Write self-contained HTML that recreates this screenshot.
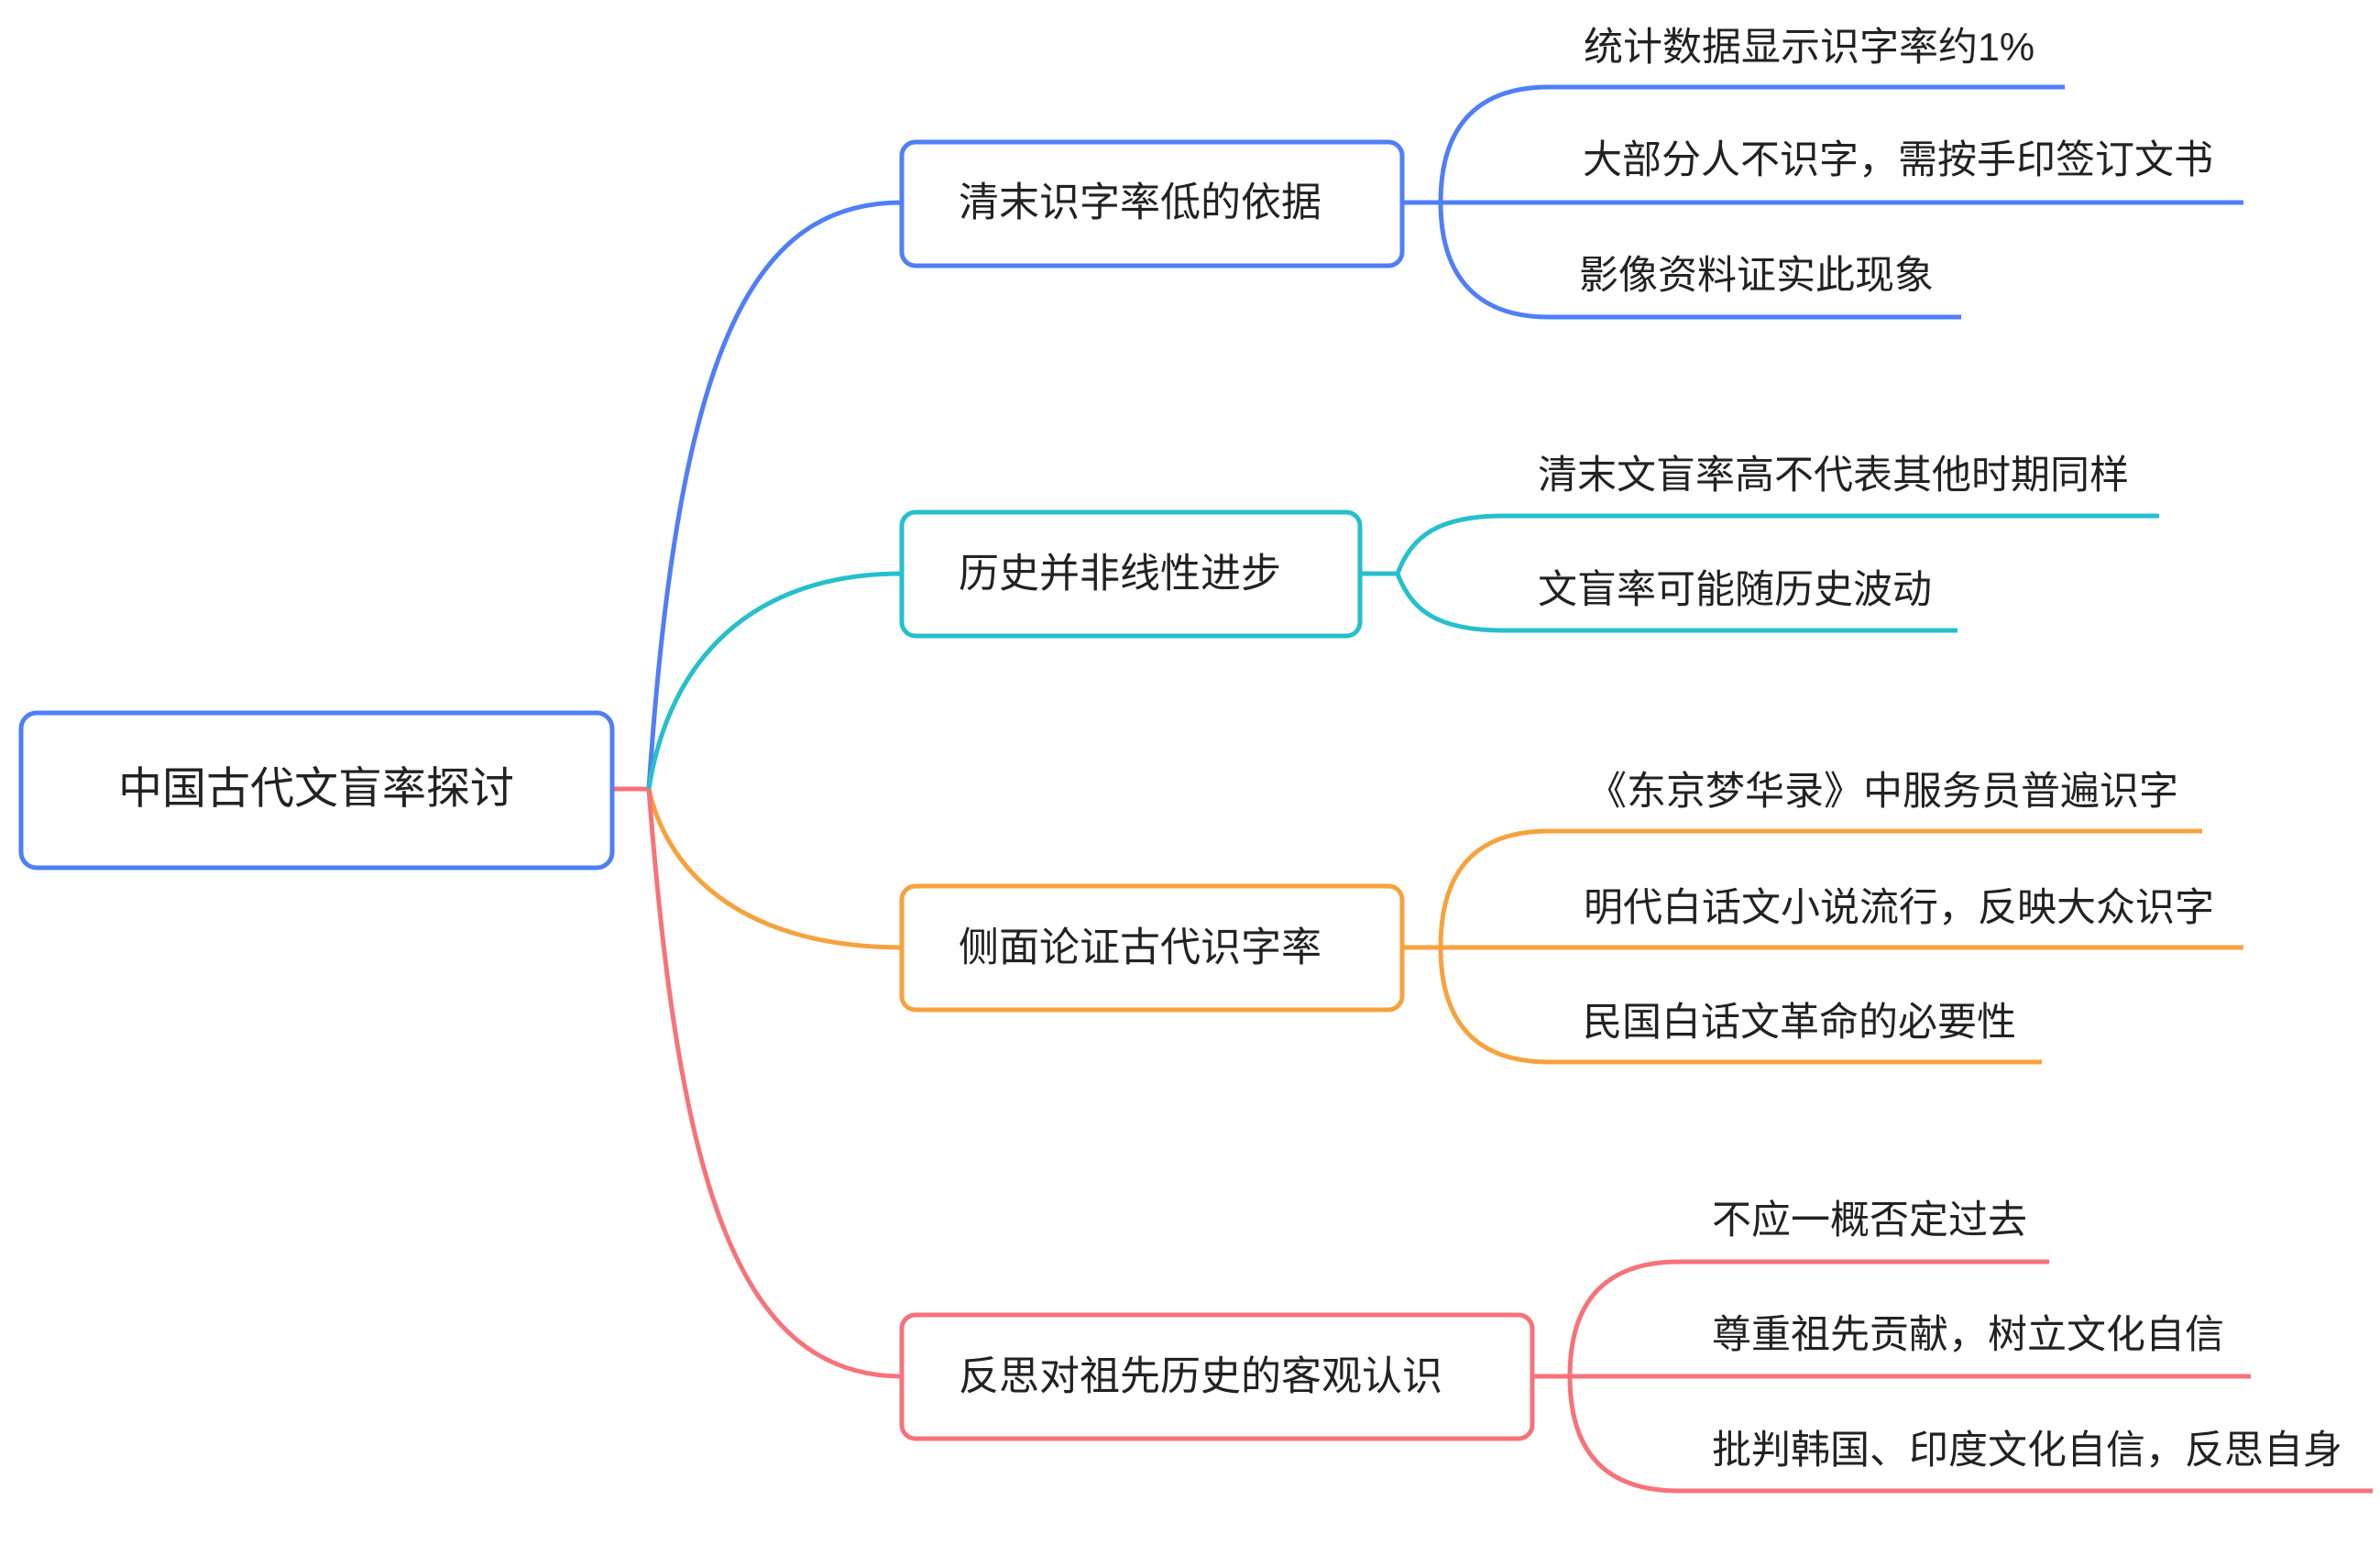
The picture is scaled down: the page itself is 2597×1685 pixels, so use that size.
<!DOCTYPE html>
<html><head><meta charset="utf-8"><style>
html,body{margin:0;padding:0;background:#fff;}
svg{display:block;}
text{font-family:"Liberation Sans","Noto Sans CJK SC",sans-serif;fill:#222;dominant-baseline:central;}
</style></head><body>
<svg width="2597" height="1685" viewBox="0 0 2597 1685" xmlns="http://www.w3.org/2000/svg">
<g fill="none" stroke-width="5" stroke-linecap="butt">
  <path d="M668 861 H708" stroke="#f77279"/>
  <path d="M708 861 C740 380, 820 221, 984 221" stroke="#4f7ef7"/>
  <path d="M708 861 C730 720, 820 626, 984 626" stroke="#26bfcc"/>
  <path d="M708 861 C730 960, 820 1034, 984 1034" stroke="#f7a23e"/>
  <path d="M708 861 C740 1280, 800 1502, 984 1502" stroke="#f77279"/>
  <path d="M1530 221 H1572" stroke="#4f7ef7"/>
  <path d="M1572 221 C1572 140, 1610 95, 1690 95 H2253" stroke="#4f7ef7"/>
  <path d="M1572 221 H2448" stroke="#4f7ef7"/>
  <path d="M1572 221 C1572 300, 1610 346, 1690 346 H2140" stroke="#4f7ef7"/>
  <path d="M1484 626 H1525" stroke="#26bfcc"/>
  <path d="M1525 626 C1540 585, 1570 563, 1640 563 H2356" stroke="#26bfcc"/>
  <path d="M1525 626 C1540 667, 1570 688, 1640 688 H2136" stroke="#26bfcc"/>
  <path d="M1530 1034 H1572" stroke="#f7a23e"/>
  <path d="M1572 1034 C1572 950, 1610 907, 1690 907 H2403" stroke="#f7a23e"/>
  <path d="M1572 1034 H2448" stroke="#f7a23e"/>
  <path d="M1572 1034 C1572 1115, 1610 1159, 1690 1159 H2228" stroke="#f7a23e"/>
  <path d="M1672 1502 H1713" stroke="#f77279"/>
  <path d="M1713 1502 C1713 1420, 1752 1377, 1832 1377 H2236" stroke="#f77279"/>
  <path d="M1713 1502 H2456" stroke="#f77279"/>
  <path d="M1713 1502 C1713 1585, 1752 1627, 1832 1627 H2589" stroke="#f77279"/>
  <rect x="23" y="778" width="645" height="169" rx="17" stroke="#4f7ef7" fill="#fff"/>
  <rect x="984" y="155" width="546" height="135" rx="15" stroke="#4f7ef7" fill="#fff"/>
  <rect x="984" y="559" width="500" height="135" rx="15" stroke="#26bfcc" fill="#fff"/>
  <rect x="984" y="967" width="546" height="135" rx="15" stroke="#f7a23e" fill="#fff"/>
  <rect x="984" y="1435" width="688" height="135" rx="15" stroke="#f77279" fill="#fff"/>
</g>
<text x="345" y="861" font-size="48" text-anchor="middle">中国古代文盲率探讨</text>
<g font-size="44">
<text x="1046" y="221">清末识字率低的依据</text>
<text x="1046" y="626">历史并非线性进步</text>
<text x="1046" y="1034">侧面论证古代识字率</text>
<text x="1046" y="1502">反思对祖先历史的客观认识</text>
</g>
<g font-size="43">
<text x="1728" y="52">统计数据显示识字率约1%</text>
<text x="1727" y="175">大部分人不识字，需按手印签订文书</text>
<text x="1723" y="301">影像资料证实此现象</text>
<text x="1678" y="519">清末文盲率高不代表其他时期同样</text>
<text x="1678" y="644">文盲率可能随历史波动</text>
<text x="1732" y="864">《东京梦华录》中服务员普遍识字</text>
<text x="1728" y="991">明代白话文小说流行，反映大众识字</text>
<text x="1727" y="1116">民国白话文革命的必要性</text>
<text x="1868" y="1332">不应一概否定过去</text>
<text x="1868" y="1457">尊重祖先贡献，树立文化自信</text>
<text x="1868" y="1583">批判韩国、印度文化自信，反思自身</text>
</g>
</svg>
</body></html>
